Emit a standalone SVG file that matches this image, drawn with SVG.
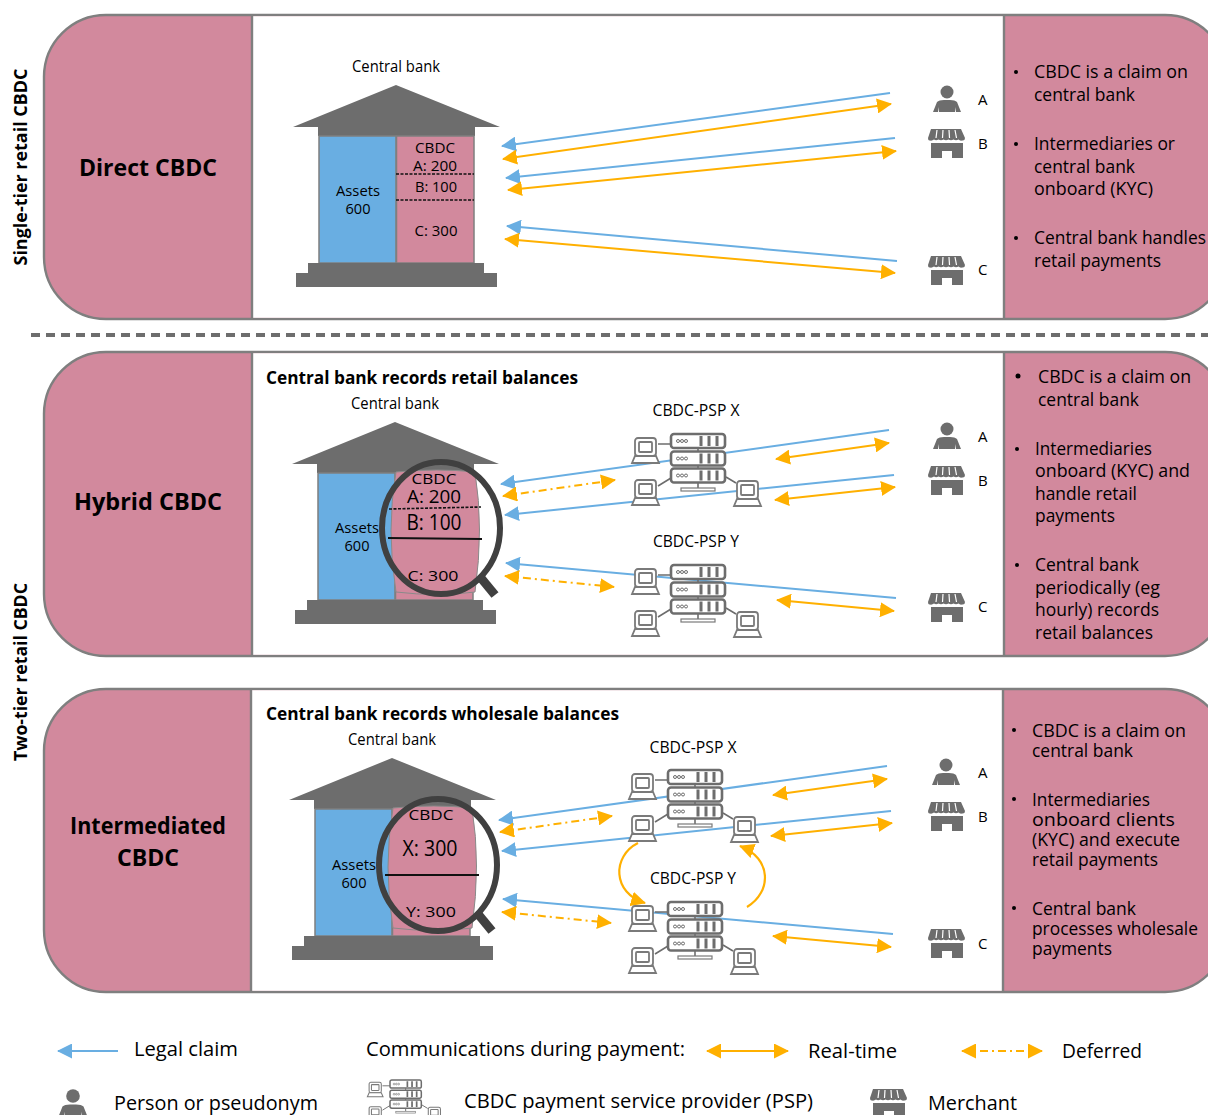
<svg xmlns="http://www.w3.org/2000/svg" xmlns:xlink="http://www.w3.org/1999/xlink" width="1208" height="1115" viewBox="0 0 1208 1115">
<style>
text{font-family:"Open Sans","Noto Sans","Liberation Sans",sans-serif;fill:#000;font-size:16px}
.m{text-anchor:middle}
.t{font-weight:700;font-size:24px;text-anchor:middle}
.h{font-weight:700;font-size:18px}
.v{font-weight:700;font-size:17px;text-anchor:middle}
.r{font-size:18px}
.n{font-size:15px}
.g{font-size:20px}
.panel{fill:#d2899d;stroke:#7f7f7f;stroke-width:2.4}
.inner{fill:#fff}
.sep{stroke:#7f7f7f;stroke-width:2.4}
.legal{fill:none;stroke:#69aee2;stroke-width:2;marker-end:url(#ab)}
.rt{fill:none;stroke:#ffb000;stroke-width:2;marker-start:url(#ao);marker-end:url(#ao)}
.df{fill:none;stroke:#ffb000;stroke-width:2;stroke-dasharray:8 4 2 4;marker-start:url(#ao);marker-end:url(#ao)}
.cu{fill:none;stroke:#ffb000;stroke-width:2.2;marker-end:url(#ao)}
.dash{stroke:#111;stroke-width:1.6;stroke-dasharray:3 1.5;fill:none}
.srv{fill:#fff;stroke:#6d6d6d;stroke-width:2.6}
.ln{fill:none;stroke:#6d6d6d;stroke-width:1.6}
.pc{fill:#fff;stroke:#7a7a7a;stroke-width:1.8}
.dk{fill:#6d6d6d}
</style>
<defs>
<marker id="ab" viewBox="0 0 15 15" refX="14" refY="7.500" markerWidth="15" markerHeight="15" markerUnits="userSpaceOnUse" orient="auto"><path d="M15,7.500L0,0V15Z" fill="#69aee2"/></marker>
<marker id="ao" viewBox="0 0 15 15" refX="14" refY="7.500" markerWidth="15" markerHeight="15" markerUnits="userSpaceOnUse" orient="auto-start-reverse"><path d="M15,7.500L0,0V15Z" fill="#ffb000"/></marker>
<g id="person"><circle cx="0" cy="0" r="6.500" class="dk"/><path class="dk" d="M-14,20L-10,10Q-8,8 -3,8H3Q8,8 10,10L14,20H9L8,15V20H-8V15L-9,20Z"/></g>
<g id="shop"><path class="dk" d="M3,0H33L37,9Q37,12 34,11.500Q32,12 30.500,10.500Q28,12 25.500,10.500Q23,12 20.500,10.500Q18,12 15.500,10.500Q13,12 10.500,10.500Q8,12 6,10.500Q4,12 2,11.500Q0,12 0,9Z"/><path class="dk" d="M3,14H35V29H24V22H14V29H3Z"/><path d="M9,1L8,9M15,1L14.500,9M21,1L21.500,9M27,1L28.500,9" stroke="#fff" stroke-width="1.200"/></g>
<g id="srv"><rect x="0" y="0" width="54" height="14" rx="3" class="srv"/><circle cx="7" cy="7" r="1.500" class="ln" style="stroke-width:1"/><circle cx="11" cy="7" r="1.500" class="ln" style="stroke-width:1"/><circle cx="15" cy="7" r="1.500" class="ln" style="stroke-width:1"/><path d="M30,2V12M38,2V12M46,2V12" stroke="#6d6d6d" stroke-width="3"/><path d="M30,2V12M38,2V12M46,2V12" stroke="#fff" stroke-width="1" transform="translate(3 0)"/></g>
<g id="pc"><rect x="3" y="0" width="21" height="18" rx="3" class="pc"/><rect x="7" y="4" width="13" height="10" rx="1" class="pc"/><path d="M3,18H24L27,25H0Z" class="pc"/></g>
<g id="psp"><path class="ln" d="M-13,10H0M-13,52L0,44M55,43L65,49M27,14V18M27,31V35M27,49V54"/><use href="#srv" x="0" y="0"/><use href="#srv" x="0" y="17.500"/><use href="#srv" x="0" y="34.500"/><rect x="10" y="54" width="34" height="3" class="pc" style="stroke-width:1.200"/><use href="#pc" x="-39" y="4"/><use href="#pc" x="-39" y="46"/><use href="#pc" x="63" y="47"/></g>
<g id="bank"><path class="dk" d="M293,127L396,85L500,127H475V136H318V127Z"/><rect x="319" y="136" width="77" height="127" fill="#69aee2" stroke="#7f7f7f" stroke-width="1.500"/><rect x="396.500" y="136" width="77.500" height="127" fill="#d2899d" stroke="#7f7f7f" stroke-width="1.500"/><path class="dk" d="M308,263H484V273H497V287H296V273H308Z"/></g>
</defs>

<rect width="1208" height="1115" fill="#fff"/>

<g id="divider"><path d="M31,335H1208" stroke="#6d6d6d" stroke-width="4" stroke-dasharray="9 6"/></g>

<g id="panel-direct">
<rect x="44" y="15" width="1183" height="304" rx="62" class="panel"/><rect x="252" y="16.200" width="752" height="301.600" class="inner"/><path d="M252,15V319M1004,15V319" class="sep"/>
<text class="t" x="148" y="176" textLength="138" lengthAdjust="spacingAndGlyphs">Direct CBDC</text>
<text class="r" x="1034" y="78" textLength="154" lengthAdjust="spacingAndGlyphs">CBDC is a claim on</text><text class="r" x="1034" y="101" textLength="101" lengthAdjust="spacingAndGlyphs">central bank</text>
<text class="r" x="1034" y="150" textLength="141" lengthAdjust="spacingAndGlyphs">Intermediaries or</text><text class="r" x="1034" y="173" textLength="101" lengthAdjust="spacingAndGlyphs">central bank</text><text class="r" x="1034" y="195" textLength="119" lengthAdjust="spacingAndGlyphs">onboard (KYC)</text>
<text class="r" x="1034" y="244" textLength="172" lengthAdjust="spacingAndGlyphs">Central bank handles</text><text class="r" x="1034" y="267" textLength="127" lengthAdjust="spacingAndGlyphs">retail payments</text>
<circle cx="1016" cy="72" r="2"/><circle cx="1016" cy="144" r="2"/><circle cx="1016" cy="238" r="2"/>
</g>

<g id="panel-hybrid">
<rect x="44" y="352" width="1183" height="304" rx="62" class="panel"/><rect x="252" y="353.200" width="752" height="301.600" class="inner"/><path d="M252,352V656M1004,352V656" class="sep"/>
<text class="t" x="148" y="510" textLength="148" lengthAdjust="spacingAndGlyphs">Hybrid CBDC</text>
<text class="r" x="1038" y="383" textLength="153" lengthAdjust="spacingAndGlyphs">CBDC is a claim on</text><text class="r" x="1038" y="406" textLength="101" lengthAdjust="spacingAndGlyphs">central bank</text>
<text class="r" x="1035" y="455" textLength="117" lengthAdjust="spacingAndGlyphs">Intermediaries</text><text class="r" x="1035" y="477" textLength="155" lengthAdjust="spacingAndGlyphs">onboard (KYC) and</text><text class="r" x="1035" y="500" textLength="102" lengthAdjust="spacingAndGlyphs">handle retail</text><text class="r" x="1035" y="522" textLength="80" lengthAdjust="spacingAndGlyphs">payments</text>
<text class="r" x="1035" y="571" textLength="104" lengthAdjust="spacingAndGlyphs">Central bank</text><text class="r" x="1035" y="594" textLength="125" lengthAdjust="spacingAndGlyphs">periodically (eg</text><text class="r" x="1035" y="616" textLength="124" lengthAdjust="spacingAndGlyphs">hourly) records</text><text class="r" x="1035" y="639" textLength="118" lengthAdjust="spacingAndGlyphs">retail balances</text>
<circle cx="1018" cy="376" r="2.500"/><circle cx="1017" cy="449" r="2"/><circle cx="1017" cy="565" r="2"/>
</g>

<g id="panel-intermediated">
<rect x="44" y="689" width="1183" height="303" rx="62" class="panel"/><rect x="251" y="690.200" width="752" height="300.600" class="inner"/><path d="M251,689V992M1003,689V992" class="sep"/>
<text class="t" x="148" y="834" textLength="156" lengthAdjust="spacingAndGlyphs">Intermediated</text><text class="t" x="148" y="866" textLength="62" lengthAdjust="spacingAndGlyphs">CBDC</text>
<text class="r" x="1032" y="737" textLength="154" lengthAdjust="spacingAndGlyphs">CBDC is a claim on</text><text class="r" x="1032" y="757" textLength="101" lengthAdjust="spacingAndGlyphs">central bank</text>
<text class="r" x="1032" y="806" textLength="118" lengthAdjust="spacingAndGlyphs">Intermediaries</text><text class="r" x="1032" y="826" textLength="143" lengthAdjust="spacingAndGlyphs">onboard clients</text><text class="r" x="1032" y="846" textLength="148" lengthAdjust="spacingAndGlyphs">(KYC) and execute</text><text class="r" x="1032" y="866" textLength="126" lengthAdjust="spacingAndGlyphs">retail payments</text>
<text class="r" x="1032" y="915" textLength="104" lengthAdjust="spacingAndGlyphs">Central bank</text><text class="r" x="1032" y="935" textLength="166" lengthAdjust="spacingAndGlyphs">processes wholesale</text><text class="r" x="1032" y="955" textLength="80" lengthAdjust="spacingAndGlyphs">payments</text>
<circle cx="1014" cy="730" r="2"/><circle cx="1014" cy="799" r="2"/><circle cx="1014" cy="908" r="2"/>
</g>

<g id="tier-labels">
<text class="v" transform="translate(27 167) rotate(-90)" textLength="197" lengthAdjust="spacingAndGlyphs">Single-tier retail CBDC</text>
<text class="v" transform="translate(27 672) rotate(-90)" textLength="178" lengthAdjust="spacingAndGlyphs">Two-tier retail CBDC</text>
</g>

<g id="connectors">
<path class="legal" d="M890,93L502,146"/><path class="rt" d="M503,159L891,104"/>
<path class="legal" d="M895,138L506,178"/><path class="rt" d="M508,190L896,151"/>
<path class="legal" d="M897,261L507,226"/><path class="rt" d="M505,239L895,273"/>
<path class="legal" d="M889,430L501,484"/><path class="df" d="M503,496L615,480"/><path class="rt" d="M776,459L889,443"/>
<path class="legal" d="M894,475L505,515"/><path class="rt" d="M775,500L895,487"/>
<path class="legal" d="M896,598L506,563"/><path class="df" d="M505,576L614,587"/><path class="rt" d="M777,600L894,611"/>
<path class="legal" d="M887,766L499,820"/><path class="df" d="M500,832L612,816"/><path class="rt" d="M773,795L887,779"/>
<path class="legal" d="M891,811L502,851"/><path class="rt" d="M771,836L892,823"/>
<path class="legal" d="M893,934L503,899"/><path class="df" d="M502,912L611,923"/><path class="rt" d="M773,936L891,947"/>
<path class="cu" d="M638,843C612,856 612,893 645,903"/><path class="cu" d="M747,907C772,892 772,858 740,846"/>
</g>

<g id="central-bank-1"><use href="#bank"/>
<text class="m" x="396" y="72" textLength="88" lengthAdjust="spacingAndGlyphs">Central bank</text>
<text class="m n" x="358" y="196" textLength="44" lengthAdjust="spacingAndGlyphs">Assets</text><text class="m n" x="358" y="214" textLength="25" lengthAdjust="spacingAndGlyphs">600</text>
<text class="m n" x="435" y="153" textLength="40" lengthAdjust="spacingAndGlyphs">CBDC</text><text class="m n" x="435" y="171" textLength="44" lengthAdjust="spacingAndGlyphs">A: 200</text><text class="m n" x="436" y="192" textLength="42" lengthAdjust="spacingAndGlyphs">B: 100</text><text class="m n" x="436" y="236" textLength="43" lengthAdjust="spacingAndGlyphs">C: 300</text>
<path class="dash" d="M396,174H474M396,200H474"/>
</g>

<g id="central-bank-2"><use href="#bank" x="-1" y="337"/>
<text class="m" x="395" y="409" textLength="88" lengthAdjust="spacingAndGlyphs">Central bank</text>
<text class="h" x="266" y="384" textLength="312" lengthAdjust="spacingAndGlyphs">Central bank records retail balances</text>
<text class="m n" x="357" y="533" textLength="44" lengthAdjust="spacingAndGlyphs">Assets</text><text class="m n" x="357" y="551" textLength="25" lengthAdjust="spacingAndGlyphs">600</text>
<path d="M396,472Q438,468 475,472Q484,528 475,592Q438,597 396,592Q386,530 396,472Z" fill="#d2899d" stroke="#8a8a8a" stroke-width="1"/>
<text class="m" x="434" y="484" style="font-size:14px" textLength="45" lengthAdjust="spacingAndGlyphs">CBDC</text>
<text class="m" x="434" y="503" style="font-size:19px" textLength="54" lengthAdjust="spacingAndGlyphs">A: 200</text>
<text class="m" x="434" y="530" style="font-size:21px" textLength="55" lengthAdjust="spacingAndGlyphs">B: 100</text>
<text class="m" x="433" y="581" style="font-size:15px" textLength="51" lengthAdjust="spacingAndGlyphs">C: 300</text>
<path class="dash" d="M389,509L481,507"/><path d="M388,538L482,539" stroke="#111" stroke-width="1.800"/>
<path d="M481,578L495,595" stroke="#404040" stroke-width="9"/>
<ellipse cx="441" cy="528" rx="59" ry="66" fill="none" stroke="#404040" stroke-width="6"/>
</g>

<g id="central-bank-3"><use href="#bank" x="-4" y="673"/>
<text class="m" x="392" y="745" textLength="88" lengthAdjust="spacingAndGlyphs">Central bank</text>
<text class="h" x="266" y="720" textLength="353" lengthAdjust="spacingAndGlyphs">Central bank records wholesale balances</text>
<text class="m n" x="354" y="870" textLength="44" lengthAdjust="spacingAndGlyphs">Assets</text><text class="m n" x="354" y="888" textLength="25" lengthAdjust="spacingAndGlyphs">600</text>
<path d="M393,808Q435,804 472,808Q481,864 472,928Q435,933 393,928Q383,866 393,808Z" fill="#d2899d" stroke="#8a8a8a" stroke-width="1"/>
<text class="m" x="431" y="820" style="font-size:14px" textLength="45" lengthAdjust="spacingAndGlyphs">CBDC</text>
<text class="m" x="430" y="856" style="font-size:21px" textLength="55" lengthAdjust="spacingAndGlyphs">X: 300</text>
<text class="m" x="431" y="917" style="font-size:15px" textLength="50" lengthAdjust="spacingAndGlyphs">Y: 300</text>
<path d="M385,875H479" stroke="#111" stroke-width="1.800"/>
<path d="M478,914L492,931" stroke="#404040" stroke-width="9"/>
<ellipse cx="438" cy="865" rx="59" ry="66" fill="none" stroke="#404040" stroke-width="6"/>
</g>

<g id="psp-x-hybrid"><use href="#psp" x="671" y="434"/><text class="m" x="696" y="416" textLength="87" lengthAdjust="spacingAndGlyphs">CBDC-PSP X</text></g>
<g id="psp-y-hybrid"><use href="#psp" x="671" y="565"/><text class="m" x="696" y="547" textLength="86" lengthAdjust="spacingAndGlyphs">CBDC-PSP Y</text></g>
<g id="psp-x-intermediated"><use href="#psp" x="668" y="770"/><text class="m" x="693" y="753" textLength="87" lengthAdjust="spacingAndGlyphs">CBDC-PSP X</text></g>
<g id="psp-y-intermediated"><use href="#psp" x="668" y="902"/><text class="m" x="693" y="884" textLength="86" lengthAdjust="spacingAndGlyphs">CBDC-PSP Y</text></g>

<g id="clients-direct"><use href="#person" x="947" y="92"/><use href="#shop" x="928" y="129"/><use href="#shop" x="928" y="256"/><text class="n" x="978" y="105">A</text><text class="n" x="978" y="149">B</text><text class="n" x="978" y="275">C</text></g>
<g id="clients-hybrid"><use href="#person" x="947" y="429"/><use href="#shop" x="928" y="466"/><use href="#shop" x="928" y="593"/><text class="n" x="978" y="442">A</text><text class="n" x="978" y="486">B</text><text class="n" x="978" y="612">C</text></g>
<g id="clients-intermediated"><use href="#person" x="946" y="765"/><use href="#shop" x="928" y="802"/><use href="#shop" x="928" y="929"/><text class="n" x="978" y="778">A</text><text class="n" x="978" y="822">B</text><text class="n" x="978" y="949">C</text></g>

<g id="legend">
<path class="legal" d="M118,1051H58"/><text class="g" x="134" y="1056" textLength="104" lengthAdjust="spacingAndGlyphs">Legal claim</text>
<text class="g" x="366" y="1056" textLength="319" lengthAdjust="spacingAndGlyphs">Communications during payment:</text>
<path class="rt" d="M707,1051H788"/><text class="g" x="808" y="1058" textLength="89" lengthAdjust="spacingAndGlyphs">Real-time</text>
<path class="df" d="M962,1051H1042"/><text class="g" x="1062" y="1058" textLength="80" lengthAdjust="spacingAndGlyphs">Deferred</text>
<use href="#person" transform="translate(73 1096) scale(1.050)"/><text class="g" x="114" y="1110" textLength="204" lengthAdjust="spacingAndGlyphs">Person or pseudonym</text>
<use href="#psp" transform="translate(390 1080) scale(.58)"/><text class="g" x="464" y="1108" textLength="349" lengthAdjust="spacingAndGlyphs">CBDC payment service provider (PSP)</text>
<use href="#shop" x="870" y="1089"/><text class="g" x="928" y="1110" textLength="89" lengthAdjust="spacingAndGlyphs">Merchant</text>
</g>
</svg>
